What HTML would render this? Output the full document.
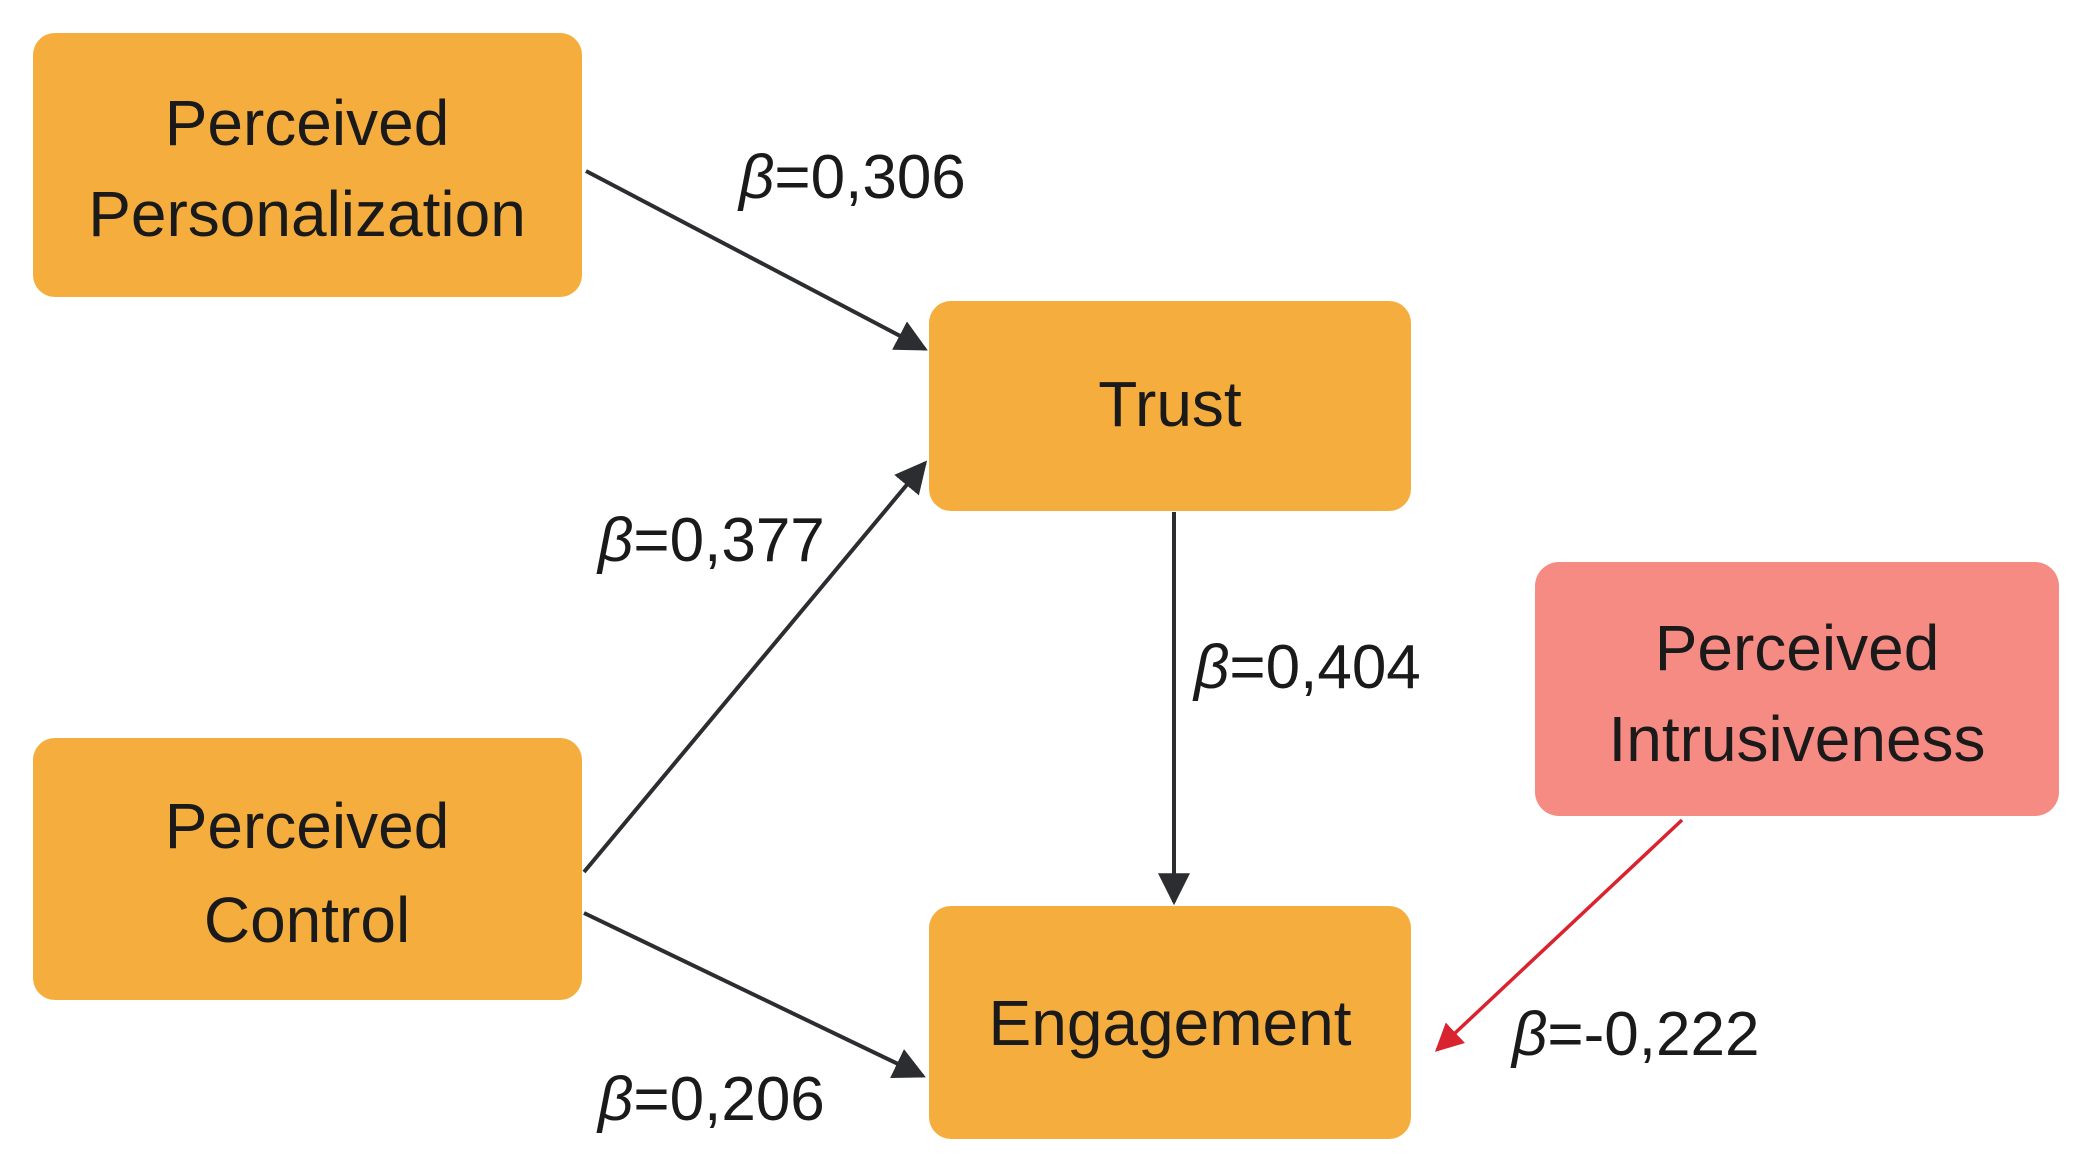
<!DOCTYPE html>
<html><head><meta charset="utf-8"><style>
html,body{margin:0;padding:0;background:#fff;}
svg{display:block;}
text{font-family:"Liberation Sans",Arial,sans-serif;fill:#1a1a1a;}
</style></head><body>
<svg width="2086" height="1174" viewBox="0 0 2086 1174" xmlns="http://www.w3.org/2000/svg">
<defs>
<marker id="ah" viewBox="0 0 10 10" refX="9" refY="5" markerWidth="8" markerHeight="8" markerUnits="strokeWidth" orient="auto">
<path d="M0,0 L10,5 L0,10 z" fill="#2b2d30"/></marker>
<marker id="ahr" viewBox="0 0 10 10" refX="9" refY="5" markerWidth="8" markerHeight="8" markerUnits="strokeWidth" orient="auto">
<path d="M0,0 L10,5 L0,10 z" fill="#d9232e"/></marker>
</defs>
<rect x="33" y="33" width="549" height="264" rx="22" fill="#f5ae3e"/>
<rect x="929" y="301" width="482" height="210" rx="22" fill="#f5ae3e"/>
<rect x="33" y="738" width="549" height="262" rx="22" fill="#f5ae3e"/>
<rect x="929" y="906" width="482" height="233" rx="22" fill="#f5ae3e"/>
<rect x="1535" y="562" width="524" height="254" rx="24" fill="#f68b84"/>

<g stroke="#2b2d30" stroke-width="4" fill="none">
<line x1="586" y1="171" x2="925" y2="349" marker-end="url(#ah)"/>
<line x1="584" y1="872" x2="925" y2="463" marker-end="url(#ah)"/>
<line x1="584" y1="913" x2="923" y2="1076" marker-end="url(#ah)"/>
<line x1="1174" y1="512" x2="1174" y2="902" marker-end="url(#ah)"/>
</g>
<line x1="1682" y1="820" x2="1437" y2="1050" stroke="#d9232e" stroke-width="3.5" marker-end="url(#ahr)"/>

<g font-size="64" text-anchor="middle">
<text x="307" y="145">Perceived</text>
<text x="307" y="236">Personalization</text>
<text x="1170" y="426">Trust</text>
<text x="307" y="848">Perceived</text>
<text x="307" y="942">Control</text>
<text x="1170" y="1045">Engagement</text>
<text x="1797" y="670">Perceived</text>
<text x="1797" y="761">Intrusiveness</text>
</g>
<g font-size="62">
<text x="739" y="198"><tspan font-style="italic">β</tspan>=0,306</text>
<text x="598" y="561"><tspan font-style="italic">β</tspan>=0,377</text>
<text x="1194" y="688"><tspan font-style="italic">β</tspan>=0,404</text>
<text x="598" y="1120"><tspan font-style="italic">β</tspan>=0,206</text>
<text x="1512" y="1055"><tspan font-style="italic">β</tspan>=-0,222</text>
</g>
</svg>
</body></html>
